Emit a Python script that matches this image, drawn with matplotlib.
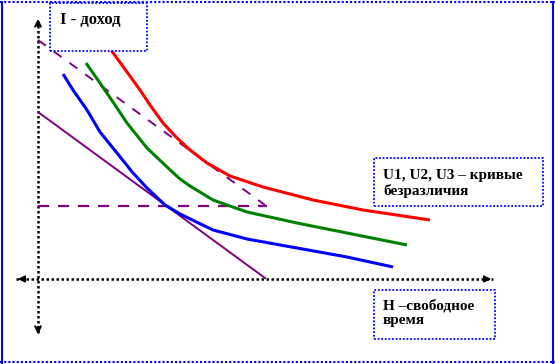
import matplotlib
matplotlib.use("Agg")
import matplotlib.pyplot as plt
from matplotlib.patches import Rectangle
from matplotlib.lines import Line2D

# indifference curves U1 (blue), U2 (green), U3 (red): free time H vs income I
u1_x = [2.5, 3.5, 4.9, 6.2, 7.9, 9.5, 10.9, 12.7, 14.2, 17.5, 20.9, 25.9, 30.9, 35.5]
u1_y = [20.5, 18.9, 16.9, 14.7, 12.6, 10.6, 9.1, 7.4, 6.5, 4.9, 4.0, 3.1, 2.2, 1.2]
u2_x = [4.8, 6.2, 7.5, 8.9, 10.9, 12.9, 14.2, 15.2, 17.5, 20.9, 25.9, 30.9, 36.9]
u2_y = [21.6, 19.6, 17.7, 15.6, 13.1, 11.2, 10.0, 9.3, 7.9, 6.7, 5.6, 4.6, 3.4]
u3_x = [7.3, 8.9, 10.2, 11.2, 12.5, 13.9, 15.2, 16.9, 19.2, 22.5, 27.5, 32.5, 39.2]
u3_y = [22.9, 20.7, 18.9, 17.4, 15.6, 14.1, 12.9, 11.6, 10.3, 9.2, 7.9, 6.9, 5.9]

# budget lines
budget_x = [0.0, 22.7]
budget_y = [16.7, 0.1]
budget2_x = [0.0, 22.7]
budget2_y = [23.9, 7.4]
level_x = [0.0, 22.9]
level_y = [7.3, 7.3]

label_i = "I - доход"
label_u = ["U1, U2, U3 – кривые", "безразличия"]
label_h = ["H –свободное", "время"]

fig = plt.figure(figsize=(5.55, 3.64), dpi=100)
ax = fig.add_axes([0, 0, 1, 1])
ax.set_xlim(-3.8, 51.7)
ax.set_ylim(-8.5, 27.9)
ax.axis("off")

blue = "#0000ff"
purple = "#800080"
dotted = (0, (1, 1))

# outer frame
fig.add_artist(Line2D([0.0, 1.0], [0.994, 0.994], color=blue, lw=1.5, ls=dotted, transform=fig.transFigure))
fig.add_artist(Line2D([0.0, 1.0], [0.006, 0.006], color=blue, lw=1.5, ls=dotted, transform=fig.transFigure))
fig.add_artist(Line2D([0.003, 0.003], [0, 0.994], color=blue, lw=1.5, transform=fig.transFigure))
fig.add_artist(Line2D([0.997, 0.997], [0, 0.994], color=blue, lw=1.5, transform=fig.transFigure))

# coordinate axes (dotted, with arrowheads)
ax.plot([0, 0], [-5.4, 25.8], color="black", lw=1.8, ls=dotted)
ax.plot([-2.2, 45.5], [0, 0], color="black", lw=1.8, ls=dotted)
ax.annotate("", xy=(0, 26.3), xytext=(0, 25.0),
            arrowprops=dict(arrowstyle="->", color="black", lw=1.5))
ax.annotate("", xy=(0, -5.8), xytext=(0, -4.5),
            arrowprops=dict(arrowstyle="->", color="black", lw=1.5))
ax.annotate("", xy=(-2.3, 0), xytext=(-1.0, 0),
            arrowprops=dict(arrowstyle="-|>", color="black", lw=1.2, mutation_scale=10))
ax.annotate("", xy=(45.6, 0), xytext=(44.3, 0),
            arrowprops=dict(arrowstyle="-|>", color="black", lw=1.2, mutation_scale=10))

# budget lines
ax.plot(budget_x, budget_y, color=purple, lw=1.4)
ax.plot(budget2_x, budget2_y, color=purple, lw=1.4, ls=(0, (5, 5)))
ax.plot(level_x, level_y, color=purple, lw=1.6, ls=(0, (5, 4)))

# indifference curves
ax.plot(u1_x, u1_y, color=blue, lw=2.2, solid_capstyle="butt", solid_joinstyle="round")
ax.plot(u2_x, u2_y, color="#008000", lw=2.2, solid_capstyle="butt", solid_joinstyle="round")
ax.plot(u3_x, u3_y, color="#ff0000", lw=2.2, solid_capstyle="butt", solid_joinstyle="round")

# label boxes
font = dict(family=["Liberation Serif", "DejaVu Serif"], weight="bold", color="black")
for (x0, y0, w, h) in [(1.2, 22.8, 9.7, 4.8), (33.6, 7.3, 16.9, 4.8), (33.6, -6.0, 12.1, 4.9)]:
    ax.add_patch(Rectangle((x0, y0), w, h, facecolor="white", edgecolor=blue,
                           lw=1.3, ls=dotted, zorder=5))

ax.text(2.2, 25.5, label_i, fontsize=12, va="baseline", zorder=6, **font)
ax.text(34.5, 10.0, label_u[0], fontsize=11, va="baseline", zorder=6, **font)
ax.text(34.5, 8.4, label_u[1], fontsize=11, va="baseline", zorder=6, **font)
ax.text(34.5, -3.1, label_h[0], fontsize=11, va="baseline", zorder=6, **font)
ax.text(34.5, -4.5, label_h[1], fontsize=11, va="baseline", zorder=6, **font)

fig.savefig("out.png", dpi=100)
